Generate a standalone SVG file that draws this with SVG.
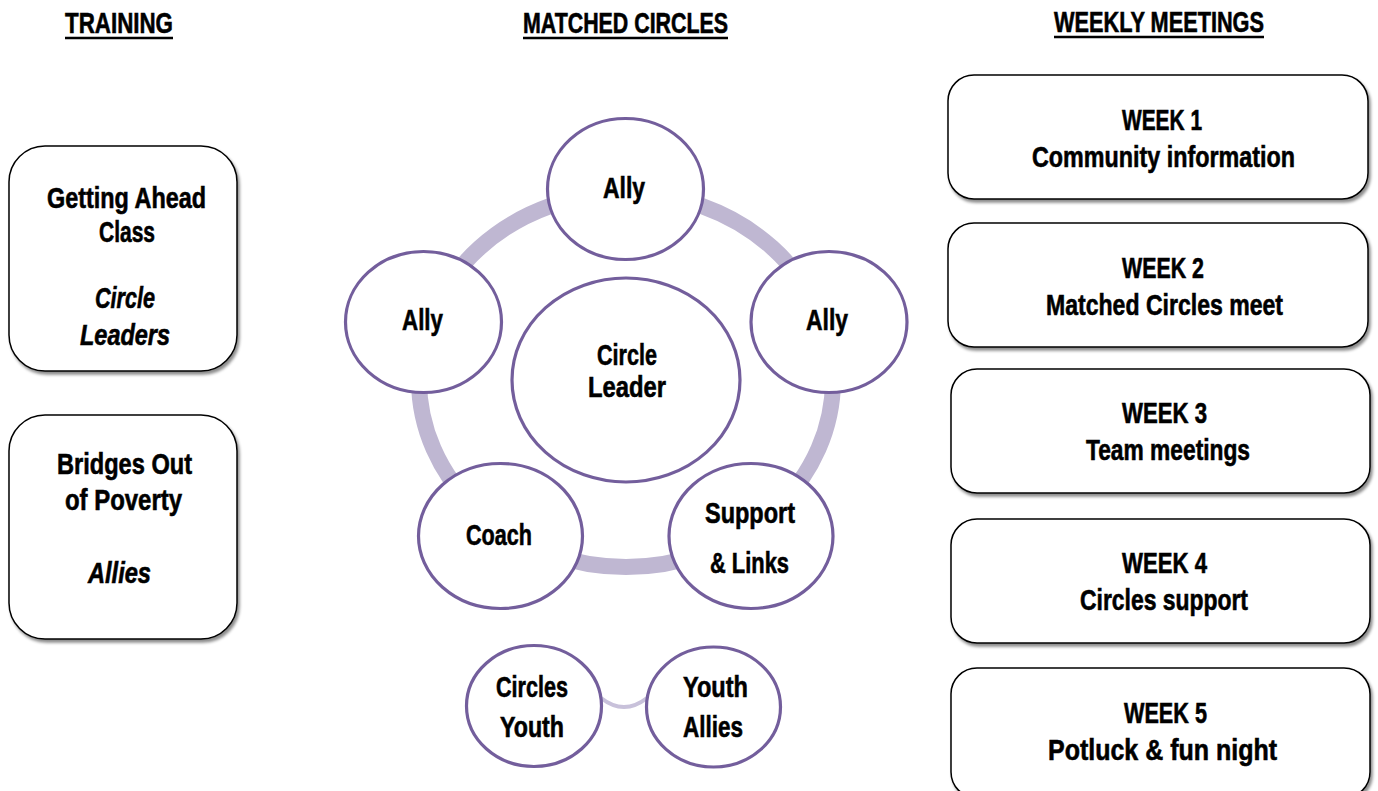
<svg xmlns="http://www.w3.org/2000/svg" width="1378" height="791" viewBox="0 0 1378 791">
<defs>
<filter id="sh" x="-10%" y="-10%" width="125%" height="130%">
<feDropShadow dx="2" dy="3" stdDeviation="1.8" flood-color="#000" flood-opacity="0.45"/>
</filter>
</defs>
<style>
text{font-family:"Liberation Sans Narrow","Liberation Sans",Arial,sans-serif;font-weight:bold;font-size:29px;fill:#000;stroke:#000;stroke-width:0.6;text-anchor:middle}
.hd{font-size:29px}
.it{font-style:italic}
.box{fill:#fff;stroke:#000;stroke-width:1.5}
.node{fill:#fff;stroke:#735E9C;stroke-width:3.2}
.ring{fill:none;stroke:#BFB7D2;stroke-width:16}
.link{fill:none;stroke:#C8C1DA;stroke-width:4}
.ul{stroke:#000;stroke-width:2.5}
</style>
<rect width="1378" height="791" fill="#fff"/>

<g id="headers">
<text class="hd" x="119" y="33" textLength="108" lengthAdjust="spacingAndGlyphs">TRAINING</text>
<line class="ul" x1="65" y1="38" x2="173" y2="38"/>
<text class="hd" x="625.5" y="33" textLength="205" lengthAdjust="spacingAndGlyphs">MATCHED CIRCLES</text>
<line class="ul" x1="523" y1="38" x2="728" y2="38"/>
<text class="hd" x="1159" y="32" textLength="210" lengthAdjust="spacingAndGlyphs">WEEKLY MEETINGS</text>
<line class="ul" x1="1054" y1="37" x2="1264" y2="37"/>
</g>

<g id="connectors">
<ellipse class="ring" cx="626" cy="380" rx="207" ry="187"/>
<path class="link" d="M601,698 Q624,716 647,698"/>
</g>

<g id="training-getting-ahead">
<rect class="box" x="9" y="146" width="228" height="225" rx="36" filter="url(#sh)"/>
<text x="126.5" y="208" textLength="159" lengthAdjust="spacingAndGlyphs">Getting Ahead</text>
<text x="127" y="242" textLength="56" lengthAdjust="spacingAndGlyphs">Class</text>
<text class="it" x="125" y="308" textLength="60" lengthAdjust="spacingAndGlyphs">Circle</text>
<text class="it" x="125" y="345" textLength="90" lengthAdjust="spacingAndGlyphs">Leaders</text>
</g>

<g id="training-bridges">
<rect class="box" x="9" y="415" width="228" height="224" rx="36" filter="url(#sh)"/>
<text x="124.5" y="474" textLength="135" lengthAdjust="spacingAndGlyphs">Bridges Out</text>
<text x="123.5" y="510" textLength="117" lengthAdjust="spacingAndGlyphs">of Poverty</text>
<text class="it" x="119.5" y="583" textLength="63" lengthAdjust="spacingAndGlyphs">Allies</text>
</g>

<g id="node-ally-top">
<ellipse class="node" cx="625.5" cy="189" rx="78" ry="70.5"/>
<text x="624" y="198" textLength="42" lengthAdjust="spacingAndGlyphs">Ally</text>
</g>
<g id="node-ally-left">
<ellipse class="node" cx="423.5" cy="322" rx="78" ry="70.5"/>
<text x="422.5" y="330" textLength="41" lengthAdjust="spacingAndGlyphs">Ally</text>
</g>
<g id="node-ally-right">
<ellipse class="node" cx="829" cy="322" rx="78" ry="70.5"/>
<text x="827" y="330" textLength="42" lengthAdjust="spacingAndGlyphs">Ally</text>
</g>
<g id="node-circle-leader">
<ellipse class="node" cx="626" cy="380" rx="114" ry="102"/>
<text x="627" y="365" textLength="60" lengthAdjust="spacingAndGlyphs">Circle</text>
<text x="627" y="397" textLength="78" lengthAdjust="spacingAndGlyphs">Leader</text>
</g>
<g id="node-coach">
<ellipse class="node" cx="500.5" cy="536" rx="82" ry="72.5"/>
<text x="499" y="545" textLength="66" lengthAdjust="spacingAndGlyphs">Coach</text>
</g>
<g id="node-support">
<ellipse class="node" cx="751" cy="536" rx="82" ry="72.5"/>
<text x="750" y="523" textLength="90" lengthAdjust="spacingAndGlyphs">Support</text>
<text x="749.5" y="573" textLength="79" lengthAdjust="spacingAndGlyphs">&amp; Links</text>
</g>
<g id="node-circles-youth">
<ellipse class="node" cx="534" cy="706" rx="67.5" ry="60.5"/>
<text x="532" y="697" textLength="72" lengthAdjust="spacingAndGlyphs">Circles</text>
<text x="532" y="737" textLength="64" lengthAdjust="spacingAndGlyphs">Youth</text>
</g>
<g id="node-youth-allies">
<ellipse class="node" cx="713.5" cy="707" rx="67" ry="60"/>
<text x="715.5" y="697" textLength="65" lengthAdjust="spacingAndGlyphs">Youth</text>
<text x="713" y="737" textLength="60" lengthAdjust="spacingAndGlyphs">Allies</text>
</g>

<g id="week-1">
<rect class="box" x="948" y="75" width="420" height="124" rx="26" filter="url(#sh)"/>
<text x="1162" y="130" textLength="80" lengthAdjust="spacingAndGlyphs">WEEK 1</text>
<text x="1163.5" y="167" textLength="263" lengthAdjust="spacingAndGlyphs">Community information</text>
</g>
<g id="week-2">
<rect class="box" x="948" y="223" width="420" height="124" rx="26" filter="url(#sh)"/>
<text x="1163" y="278" textLength="82" lengthAdjust="spacingAndGlyphs">WEEK 2</text>
<text x="1164.5" y="315" textLength="237" lengthAdjust="spacingAndGlyphs">Matched Circles meet</text>
</g>
<g id="week-3">
<rect class="box" x="951" y="369" width="419" height="124" rx="26" filter="url(#sh)"/>
<text x="1164.5" y="423" textLength="85" lengthAdjust="spacingAndGlyphs">WEEK 3</text>
<text x="1168" y="460" textLength="164" lengthAdjust="spacingAndGlyphs">Team meetings</text>
</g>
<g id="week-4">
<rect class="box" x="951" y="519" width="419" height="124" rx="26" filter="url(#sh)"/>
<text x="1164.5" y="573" textLength="85" lengthAdjust="spacingAndGlyphs">WEEK 4</text>
<text x="1164" y="610" textLength="168" lengthAdjust="spacingAndGlyphs">Circles support</text>
</g>
<g id="week-5">
<rect class="box" x="951" y="668" width="419" height="130" rx="26" filter="url(#sh)"/>
<text x="1165.5" y="723" textLength="83" lengthAdjust="spacingAndGlyphs">WEEK 5</text>
<text x="1162.5" y="760" textLength="229" lengthAdjust="spacingAndGlyphs">Potluck &amp; fun night</text>
</g>
</svg>
